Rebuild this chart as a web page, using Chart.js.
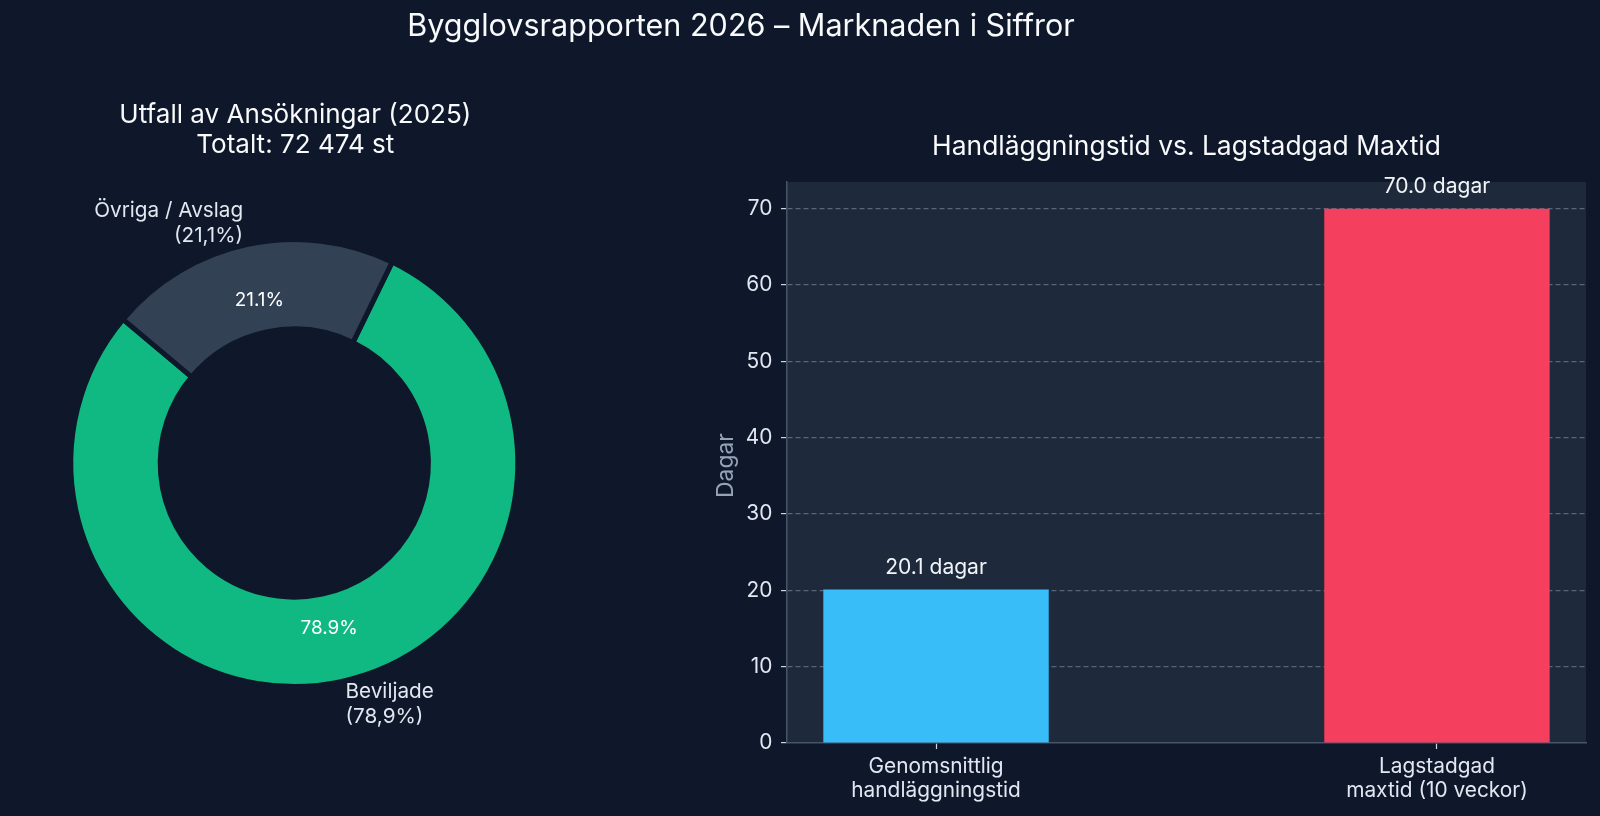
<!DOCTYPE html>
<html>
<head>
<meta charset="utf-8">
<script src="https://cdn.jsdelivr.net/npm/chart.js@4.4.1/dist/chart.umd.min.js"></script>
<style>
  html, body { margin: 0; padding: 0; background: #0f172a; width: 1600px; height: 816px; overflow: hidden; }
  #pie { position: absolute; left: 0; top: 0; }
  #bar { position: absolute; left: 620px; top: 0; }
</style>
</head>
<body>
<canvas id="pie" width="1600" height="816"></canvas>
<canvas id="bar" width="980" height="816"></canvas>
<script>
// ---------- data ----------
const mainTitle = 'Bygglovsrapporten 2026 – Marknaden i Siffror';
const pieTitleLines = ['Utfall av Ansökningar (2025)', 'Totalt: 72 474 st'];
const pieNames = ['Beviljade', 'Övriga / Avslag'];
const pieShares = [78.9, 21.1];
const pieColors = ['#10b981', '#334155'];
const barTitle = 'Handläggningstid vs. Lagstadgad Maxtid';
const barCategories = [['Genomsnittlig', 'handläggningstid'], ['Lagstadgad', 'maxtid (10 veckor)']];
const barValues = [20.1, 70.0];
const barColors = ['#38bdf8', '#f43f5e'];
const yTicks = [0, 10, 20, 30, 40, 50, 60, 70];
const yLabel = 'Dagar';
const valueUnit = 'dagar';

// ---------- style ----------
const FAMILY = 'Inter, "Noto Sans", sans-serif';
const BG = '#0f172a';
const PLOT_BG = '#1e293b';
const TITLE = '#f8fafc';
const TEXT = '#e2e8f0';
const MUTED = '#94a3b8';
const SPINE = '#475569';
const GRID = 'rgba(148,163,184,0.5)';
const TICKMARK = '#cbd5e1';

const mctx = document.createElement('canvas').getContext('2d');
function fit(text, target) {
  mctx.font = '400 100px ' + FAMILY;
  return +(100 * target / mctx.measureText(text).width).toFixed(2);
}
const mainSize = fit(mainTitle, 667.7);
const pieTitleSize = fit(pieTitleLines[0], 352);
const barTitleSize = fit(barTitle, 509);
const labelSize = fit('Övriga / Avslag', 149);
const pctSize = fit('78.9%', 57.3);
const tickSize = fit('maxtid (10 veckor)', 181.7);
const valSize = (fit('20.1 dagar', 100) + fit('70.0 dagar', 108.3)) / 2;
const ylabelSize = fit('Dagar', 65);

Chart.defaults.font.family = FAMILY;

// ---------- doughnut ----------
const piePlugin = {
  id: 'pieDecor',
  afterDraw(chart) {
    const ctx = chart.ctx;
    ctx.save();
    ctx.textBaseline = 'alphabetic';
    ctx.textAlign = 'center';
    ctx.fillStyle = TITLE;
    ctx.font = mainSize + 'px ' + FAMILY;
    ctx.fillText(mainTitle, 741, 36);

    const arcs = chart.getDatasetMeta(0).data;
    const cx = arcs[0].x, cy = arcs[0].y;
    ctx.font = pieTitleSize + 'px ' + FAMILY;
    pieTitleLines.forEach((t, k) => ctx.fillText(t, cx + 1, 123.3 + k * 29.4));

    arcs.forEach((arc, i) => {
      const p = arc.getProps(['x', 'y', 'startAngle', 'endAngle', 'outerRadius'], true);
      const mid = (p.startAngle + p.endAngle) / 2;
      // percentage inside ring
      const rp = p.outerRadius * 0.75;
      ctx.fillStyle = '#ffffff';
      ctx.textAlign = 'center';
      ctx.font = pctSize + 'px ' + FAMILY;
      ctx.fillText(pieShares[i].toFixed(1) + '%', p.x + rp * Math.cos(mid), p.y + rp * Math.sin(mid) + pctSize * 0.36);
      // outer label
      const rl = p.outerRadius * 1.1;
      const lx = p.x + rl * Math.cos(mid), ly = p.y + rl * Math.sin(mid);
      const lines = [pieNames[i], '(' + pieShares[i].toFixed(1).replace('.', ',') + '%)'];
      const L = labelSize * 1.18;
      ctx.fillStyle = TEXT;
      ctx.textAlign = lx < p.x ? 'right' : 'left';
      ctx.font = labelSize + 'px ' + FAMILY;
      lines.forEach((t, k) => ctx.fillText(t, lx, ly + (k - (lines.length - 1) / 2) * L + labelSize * 0.34));
    });
    ctx.restore();
  }
};

new Chart(document.getElementById('pie'), {
  type: 'doughnut',
  data: {
    labels: pieNames,
    datasets: [{
      data: pieShares,
      backgroundColor: pieColors,
      borderColor: BG,
      borderWidth: 5,
      hoverBorderWidth: 5,
      hoverOffset: 0
    }]
  },
  options: {
    responsive: false,
    animation: false,
    events: [],
    rotation: (90 - 140) - pieShares[0] * 3.6 + 360,
    cutout: '60%',
    layout: { padding: { left: 68.3, top: 237, right: 1079.7, bottom: 127 } },
    plugins: { legend: { display: false }, tooltip: { enabled: false }, title: { display: false } }
  },
  plugins: [piePlugin]
});

// ---------- bar ----------
const barPlugin = {
  id: 'barDecor',
  beforeDraw(chart) {
    const { ctx, chartArea: a } = chart;
    ctx.save();
    ctx.fillStyle = PLOT_BG;
    ctx.fillRect(a.left, a.top, a.right - a.left, a.bottom - a.top);
    ctx.restore();
  },
  afterDraw(chart) {
    const { ctx, chartArea: a } = chart;
    ctx.save();
    ctx.textBaseline = 'alphabetic';
    ctx.textAlign = 'center';
    ctx.fillStyle = TITLE;
    ctx.font = barTitleSize + 'px ' + FAMILY;
    ctx.fillText(barTitle, (a.left + a.right) / 2, a.top - 27);

    ctx.fillStyle = '#f1f5f9';
    ctx.font = valSize + 'px ' + FAMILY;
    chart.getDatasetMeta(0).data.forEach((bar, i) => {
      ctx.fillText(barValues[i].toFixed(1) + ' ' + valueUnit, bar.x, bar.y - 15.5);
    });

    ctx.translate(a.left - 53.7, (a.top + a.bottom) / 2 + 3);
    ctx.rotate(-Math.PI / 2);
    ctx.fillStyle = MUTED;
    ctx.font = ylabelSize + 'px ' + FAMILY;
    ctx.fillText(yLabel, 0, 0);
    ctx.restore();
  }
};

new Chart(document.getElementById('bar'), {
  type: 'bar',
  data: {
    datasets: [{
      data: barValues.map((v, i) => ({ x: i, y: v })),
      backgroundColor: barColors,
      borderWidth: 0,
      barPercentage: 0.45,
      categoryPercentage: 1
    }]
  },
  options: {
    responsive: false,
    animation: false,
    events: [],
    layout: { padding: { top: 182, right: 14, left: 0, bottom: 0 } },
    plugins: { legend: { display: false }, tooltip: { enabled: false } },
    scales: {
      x: {
        type: 'linear',
        min: -0.2975,
        max: 1.2975,
        offset: false,
        afterBuildTicks: s => { s.ticks = barCategories.map((c, i) => ({ value: i })); },
        afterFit: s => { s.height = 73; },
        ticks: {
          callback: v => barCategories[v],
          color: TEXT,
          font: { family: FAMILY, size: tickSize, lineHeight: '23.7px' },
          padding: 6,
          maxRotation: 0,
          autoSkip: false
        },
        grid: { display: true, drawOnChartArea: false, drawTicks: true, tickLength: 6, tickColor: TICKMARK, tickWidth: 1.2, offset: false },
        border: { display: true, color: SPINE, width: 1.5 }
      },
      y: {
        type: 'linear',
        min: 0,
        max: 73.5,
        afterBuildTicks: s => { s.ticks = yTicks.map(v => ({ value: v })); },
        afterFit: s => { s.width = 167; },
        ticks: {
          color: TEXT,
          font: { family: FAMILY, size: tickSize },
          padding: 8.7
        },
        grid: {
          color: c => (c.tick && c.tick.value === 0) ? 'rgba(0,0,0,0)' : GRID,
          lineWidth: 1.2,
          drawTicks: true,
          tickLength: 6,
          tickColor: TICKMARK,
          tickWidth: 1.2
        },
        border: { display: true, color: SPINE, width: 1.5, dash: [5, 3] }
      }
    }
  },
  plugins: [barPlugin]
});
</script>
</body>
</html>
